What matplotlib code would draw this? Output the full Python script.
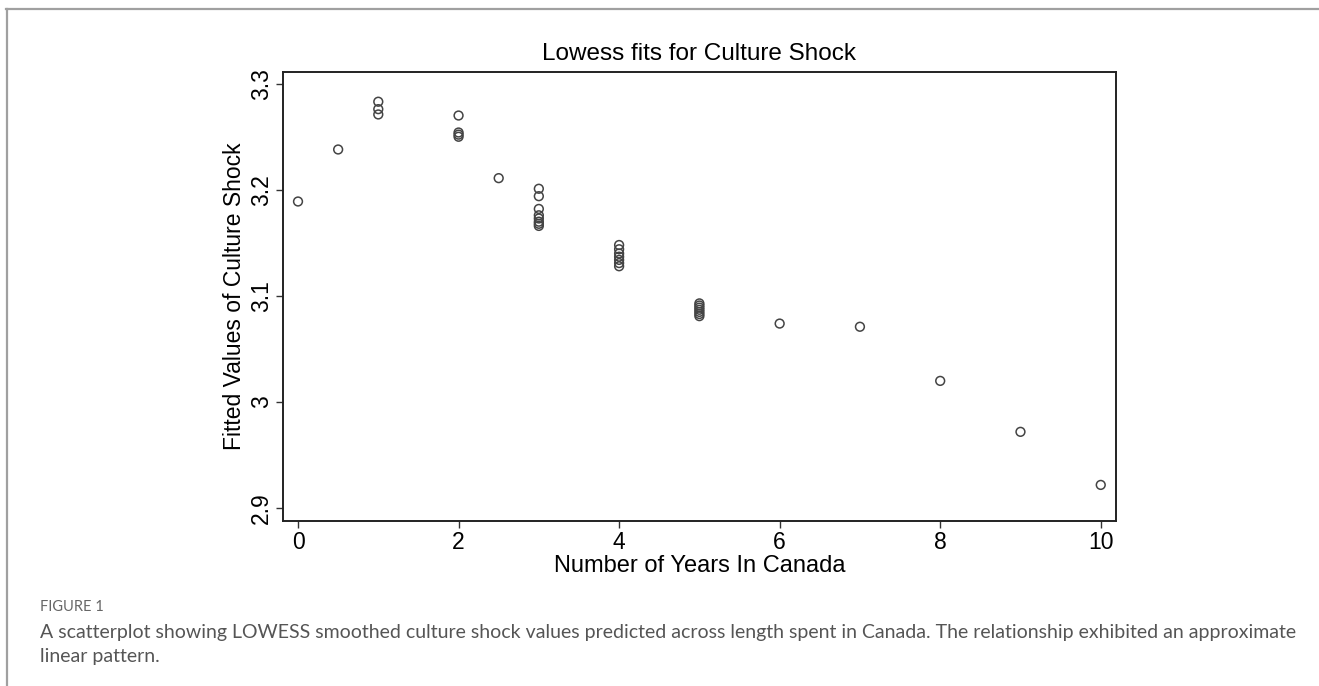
import numpy as np
import matplotlib.pyplot as plt
from matplotlib.lines import Line2D

# ── Data ────────────────────────────────────────────────────────────────────
years = [0, 0.5,
         1, 1, 1,
         2, 2, 2, 2,
         2.5,
         3, 3, 3, 3, 3, 3, 3, 3,
         4, 4, 4, 4, 4, 4, 4,
         5, 5, 5, 5, 5, 5, 5,
         6, 7, 8, 9, 10]
fitted = [3.189, 3.238,
          3.283, 3.276, 3.271,
          3.270, 3.254, 3.252, 3.250,
          3.211,
          3.201, 3.194, 3.182, 3.176, 3.173, 3.170, 3.168, 3.166,
          3.148, 3.144, 3.140, 3.137, 3.134, 3.131, 3.128,
          3.093, 3.091, 3.089, 3.087, 3.085, 3.083, 3.081,
          3.074, 3.071, 3.020, 2.972, 2.922]

x_ticks = [0, 2, 4, 6, 8, 10]
y_ticks = [2.9, 3.0, 3.1, 3.2, 3.3]
y_tick_labels = ["2.9", "3", "3.1", "3.2", "3.3"]

caption_head = "FIGURE 1"
caption_body = ("A scatterplot showing LOWESS smoothed culture shock values predicted "
                "across length spent in Canada. The relationship exhibited an approximate\n"
                "linear pattern.")

# ── Figure ──────────────────────────────────────────────────────────────────
plt.rcParams["font.family"] = ["Liberation Sans", "DejaVu Sans"]

fig = plt.figure(figsize=(13.19, 6.86), dpi=100)
fig.patch.set_facecolor("white")

ax = fig.add_axes([283 / 1319, 1 - 521 / 686, (1116 - 283) / 1319, (521 - 72) / 686])
ax.scatter(years, fitted, s=40, facecolors="none", edgecolors="#444444",
           linewidths=1.1, zorder=3)

ax.set_xlim(-0.187, 10.19)
ax.set_ylim(2.888, 3.311)
ax.set_xticks(x_ticks)
ax.set_xticklabels([str(t) for t in x_ticks], fontsize=16.5)
ax.set_yticks(y_ticks)
ax.set_yticklabels(y_tick_labels, fontsize=16.5, rotation=90, va="center")
ax.tick_params(axis="both", length=5, width=1, color="#333333", pad=2)

for s in ax.spines.values():
    s.set_linewidth(1.4)
    s.set_color("#222222")

ax.set_xlabel("Number of Years In Canada", fontsize=17, labelpad=1)
ax.set_ylabel("Fitted Values of Culture Shock", fontsize=16.5, labelpad=3)
ax.set_title("Lowess fits for Culture Shock", fontsize=17.5, pad=9)

# frame lines of the figure panel
fig.add_artist(Line2D([6 / 1319, 1], [1 - 9 / 686, 1 - 9 / 686],
                      color="#a0a0a0", linewidth=1.6))
fig.add_artist(Line2D([6.5 / 1319, 6.5 / 1319], [0, 1 - 9 / 686],
                      color="#a0a0a0", linewidth=1.6))

# caption
fig.text(40 / 1319, 1 - 607 / 686, caption_head, fontsize=10.5, color="#666666",
         family=["Lato", "DejaVu Sans"], va="center")
fig.text(40 / 1319, 1 - 624 / 686, caption_body, fontsize=14, color="#555555",
         family=["Lato", "DejaVu Sans"], va="top", linespacing=1.5)

fig.savefig("out.png", dpi=100, facecolor="white")
